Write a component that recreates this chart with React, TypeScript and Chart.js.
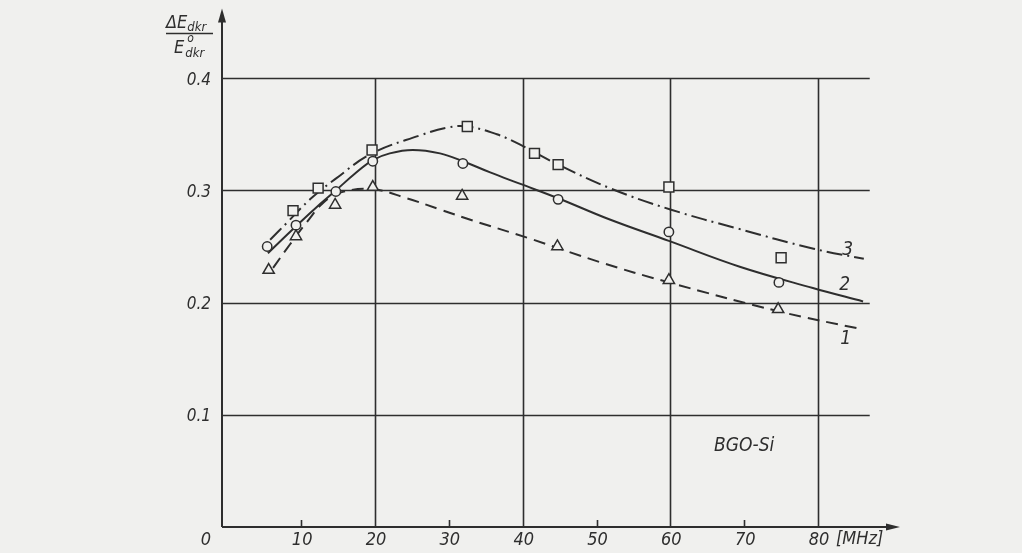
import React, { useEffect, useRef } from "react";
import { Chart, registerables } from "chart.js";

Chart.register(...registerables);

// ---- data ----
// curve 3 (dash-dot, squares)
const curve3X = [5.8, 8.2, 11.2, 14.6, 19.6, 26.1, 29.8, 32.5, 36.5, 39.6, 41.6, 44.8, 51.8, 60.0, 69.1, 79.4, 86.2];
const curve3Y = [0.256, 0.272, 0.292, 0.31, 0.333, 0.349, 0.356, 0.357, 0.35, 0.341, 0.334, 0.323, 0.302, 0.283, 0.266, 0.248, 0.239];
// curve 2 (solid, circles)
const curve2X = [5.5, 9.3, 12.6, 14.7, 17.3, 19.7, 22.0, 25.1, 28.8, 31.9, 35.6, 39.6, 44.8, 51.8, 59.8, 69.4, 79.3, 86.1];
const curve2Y = [0.244, 0.268, 0.288, 0.3, 0.315, 0.327, 0.333, 0.336, 0.333, 0.326, 0.316, 0.306, 0.293, 0.274, 0.255, 0.232, 0.213, 0.201];
// curve 1 (dashed, triangles)
const curve1X = [6.2, 8.5, 10.8, 13.0, 15.3, 19.7, 24.3, 28.8, 33.3, 41.0, 50.5, 59.8, 74.8, 86.1];
const curve1Y = [0.231, 0.252, 0.272, 0.289, 0.298, 0.301, 0.293, 0.283, 0.273, 0.257, 0.236, 0.218, 0.192, 0.176];

// measured points
const squaresX = [8.9, 12.3, 19.6, 32.5, 41.6, 44.8, 59.8, 75.0];
const squaresY = [0.282, 0.302, 0.336, 0.357, 0.333, 0.323, 0.303, 0.24];
const circlesX = [5.4, 9.3, 14.7, 19.7, 31.9, 44.8, 59.8, 74.7];
const circlesY = [0.25, 0.269, 0.299, 0.326, 0.324, 0.292, 0.263, 0.218];
const trianglesX = [5.6, 9.3, 14.6, 19.7, 31.8, 44.7, 59.8, 74.6];
const trianglesY = [0.229, 0.259, 0.287, 0.303, 0.295, 0.25, 0.22, 0.194];

// axes
const xTickLabels = [10, 20, 30, 40, 50, 60, 70, 80];
const xGrid = [20, 40, 60, 80];
const xMinorTicks = [10, 30, 50, 70];
const yTicks = [0.1, 0.2, 0.3, 0.4];
const yTickLabels = ["0.1", "0.2", "0.3", "0.4"];
const curveNames = ["1", "2", "3"];
const sampleLabel = "BGO-Si";
const unitLabel = "[MHz]";

const X_MIN = -0.72;
const X_MAX = 91.1;
const Y_MAX = 0.4621;
const GRID_END = 87;

const BG = "#f0f0ee";
const INK = "#2e2e2e";
const FONT = '"Liberation Sans Narrow", "DejaVu Sans Condensed", "Liberation Sans", sans-serif';

const pts = (xs: number[], ys: number[]) => xs.map((x, i) => ({ x, y: ys[i] }));

const decor = {
  id: "decor",
  beforeDraw(chart: any) {
    const ctx = chart.ctx;
    ctx.save();
    ctx.fillStyle = BG;
    ctx.fillRect(0, 0, chart.width, chart.height);
    ctx.restore();
  },
  beforeDatasetsDraw(chart: any) {
    const ctx = chart.ctx as CanvasRenderingContext2D;
    const xs = chart.scales.x;
    const ys = chart.scales.y;
    const { left, right, top, bottom } = chart.chartArea;
    ctx.save();
    ctx.strokeStyle = INK;
    ctx.lineWidth = 1.6;
    // horizontal grid
    const gx1 = xs.getPixelForValue(GRID_END);
    for (const v of yTicks) {
      const py = Math.round(ys.getPixelForValue(v)) + 0.5;
      ctx.beginPath();
      ctx.moveTo(left, py);
      ctx.lineTo(gx1, py);
      ctx.stroke();
    }
    // vertical grid
    const gyTop = ys.getPixelForValue(0.4);
    for (const v of xGrid) {
      const px = Math.round(xs.getPixelForValue(v)) + 0.5;
      ctx.beginPath();
      ctx.moveTo(px, bottom);
      ctx.lineTo(px, gyTop);
      ctx.stroke();
    }
    // minor ticks
    for (const v of xMinorTicks) {
      const px = Math.round(xs.getPixelForValue(v)) + 0.5;
      ctx.beginPath();
      ctx.moveTo(px, bottom);
      ctx.lineTo(px, bottom - 7);
      ctx.stroke();
    }
    // axes
    ctx.lineWidth = 2;
    ctx.beginPath();
    ctx.moveTo(left, bottom);
    ctx.lineTo(left, top + 8);
    ctx.moveTo(left, bottom);
    ctx.lineTo(right - 8, bottom);
    ctx.stroke();
    // arrows
    ctx.fillStyle = INK;
    ctx.beginPath();
    ctx.moveTo(left, top);
    ctx.lineTo(left - 4, top + 14);
    ctx.lineTo(left + 4, top + 14);
    ctx.closePath();
    ctx.fill();
    ctx.beginPath();
    ctx.moveTo(right, bottom);
    ctx.lineTo(right - 14, bottom - 3.5);
    ctx.lineTo(right - 14, bottom + 3.5);
    ctx.closePath();
    ctx.fill();
    ctx.restore();
  },
  afterDraw(chart: any) {
    const ctx = chart.ctx as CanvasRenderingContext2D;
    const xs = chart.scales.x;
    const ys = chart.scales.y;
    const { left, bottom } = chart.chartArea;
    ctx.save();
    ctx.fillStyle = INK;
    ctx.strokeStyle = INK;
    ctx.textBaseline = "middle";
    // x tick labels
    ctx.font = "italic 18px " + FONT;
    ctx.textAlign = "center";
    for (const v of xTickLabels) {
      ctx.fillText(String(v), xs.getPixelForValue(v) + 1, bottom + 13);
    }
    ctx.fillText("0", left - 16, bottom + 13);
    ctx.textAlign = "left";
    ctx.fillText(unitLabel, xs.getPixelForValue(80) + 18, bottom + 12);
    // y tick labels
    ctx.font = "italic 17px " + FONT;
    ctx.textAlign = "right";
    yTicks.forEach((v, i) => {
      ctx.fillText(yTickLabels[i], left - 11, ys.getPixelForValue(v) + 2);
    });
    // curve labels
    ctx.font = "italic 19px " + FONT;
    ctx.textAlign = "center";
    const endX = xs.getPixelForValue(GRID_END) - 24;
    ctx.fillText(curveNames[2], endX + 2, ys.getPixelForValue(curve3Y[curve3Y.length - 1]) - 9);
    ctx.fillText(curveNames[1], endX - 1, ys.getPixelForValue(curve2Y[curve2Y.length - 1]) - 16);
    ctx.fillText(curveNames[0], endX, ys.getPixelForValue(curve1Y[curve1Y.length - 1]) + 10);
    // sample label
    ctx.font = "italic 19px " + FONT;
    ctx.textAlign = "center";
    ctx.fillText(sampleLabel, xs.getPixelForValue(70), ys.getPixelForValue(0.072));
    // y axis title (fraction)
    ctx.textBaseline = "alphabetic";
    ctx.textAlign = "left";
    ctx.font = "italic 18px " + FONT;
    const tx = left - 56;
    ctx.fillText("\u0394E", tx, 28);
    const w1 = ctx.measureText("\u0394E").width;
    ctx.font = "italic 13px " + FONT;
    ctx.fillText("dkr", tx + w1, 31);
    ctx.lineWidth = 1.5;
    ctx.beginPath();
    ctx.moveTo(tx, 33.5);
    ctx.lineTo(left - 9, 33.5);
    ctx.stroke();
    ctx.font = "italic 18px " + FONT;
    ctx.fillText("E", tx + 8, 53);
    const w2 = ctx.measureText("E").width;
    ctx.font = "italic 12px " + FONT;
    ctx.fillText("o", tx + 8 + w2 + 3, 42);
    ctx.font = "italic 13px " + FONT;
    ctx.fillText("dkr", tx + 8 + w2 + 1, 57);
    ctx.restore();
  },
};

export default function App() {
  const ref = useRef<HTMLCanvasElement>(null);
  useEffect(() => {
    const canvas = ref.current;
    if (!canvas) return;
    const lineBase = {
      showLine: true,
      borderColor: INK,
      borderWidth: 2,
      pointRadius: 0,
      pointHoverRadius: 0,
      tension: 0.4,
      fill: false,
      order: 2,
    };
    const markBase = {
      showLine: false,
      borderColor: INK,
      backgroundColor: BG,
      borderWidth: 1.5,
      order: 0,
    };
    const chart = new Chart(canvas, {
      type: "scatter",
      data: {
        datasets: [
          { ...markBase, label: "3 pts", data: pts(squaresX, squaresY), pointStyle: "rect", pointRadius: 7 },
          { ...markBase, label: "2 pts", data: pts(circlesX, circlesY), pointStyle: "circle", pointRadius: 4.7 },
          { ...markBase, label: "1 pts", data: pts(trianglesX, trianglesY), pointStyle: "triangle", pointRadius: 6.5 },
          { ...lineBase, label: "3", data: pts(curve3X, curve3Y), borderDash: [16, 5, 2, 5] },
          { ...lineBase, label: "2", data: pts(curve2X, curve2Y) },
          { ...lineBase, label: "1", data: pts(curve1X, curve1Y), borderDash: [12, 7] },
        ],
      },
      options: {
        responsive: false,
        animation: false,
        devicePixelRatio: 1,
        events: [],
        layout: { padding: { left: 222, right: 122, top: 6, bottom: 26 } },
        plugins: {
          legend: { display: false },
          tooltip: { enabled: false },
          title: { display: false },
        },
        scales: {
          x: { type: "linear", display: false, min: X_MIN, max: X_MAX },
          y: { type: "linear", display: false, min: 0, max: Y_MAX },
        },
      },
      plugins: [decor],
    } as any);
    return () => chart.destroy();
  }, []);
  return (
    <div style={{ position: "fixed", left: 0, top: 0, width: 1022, height: 553 }}>
      <canvas ref={ref} width={1022} height={553} style={{ display: "block", width: 1022, height: 553 }} />
    </div>
  );
}
